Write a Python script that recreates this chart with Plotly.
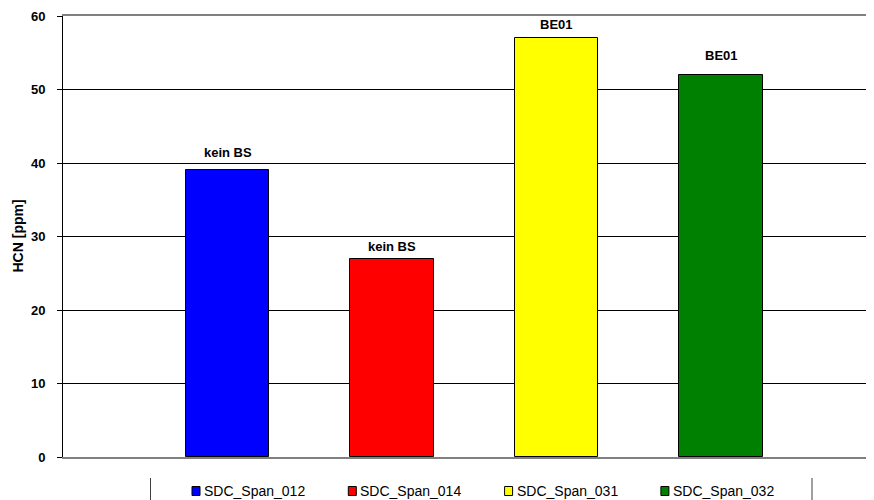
import plotly.graph_objects as go

categories = ["SDC_Span_012", "SDC_Span_014", "SDC_Span_031", "SDC_Span_032"]
values = [39, 27, 57, 52]
bar_labels = ["kein BS", "kein BS", "BE01", "BE01"]
colors = ["#0000FF", "#FF0000", "#FFFF00", "#008000"]
y_ticks = [0, 10, 20, 30, 40, 50, 60]

OFF = 8  # default page body margin
W, H = 874 - OFF, 500 - OFF
ML, MR, MT, MB = 63 - OFF, 0, 16 - OFF, 500 - 457
PW = W - ML - MR
PH = H - MT - MB


def px_x(p):
    return (p - OFF - ML) / PW


def px_y(p):
    return (MT + PH - (p - OFF)) / PH


xpos = list(range(1, len(categories) + 1))

fig = go.Figure()
fig.add_trace(go.Bar(
    x=xpos, y=values, width=0.51,
    marker=dict(color=colors, line=dict(color="black", width=1)),
    showlegend=False, hoverinfo="skip",
))

FONT = "Liberation Sans, Arial"
label_shift = [18, 12, 14, 19]
annotations = []
for xi, v, lab, sh in zip(xpos, values, bar_labels, label_shift):
    annotations.append(dict(
        x=xi, y=v, xref="x", yref="y", text=lab, showarrow=False,
        yanchor="middle", yshift=sh,
        font=dict(family=FONT, size=13, color="black", weight="bold"),
    ))

annotations.append(dict(
    x=px_x(17), y=0.5, xref="paper", yref="paper", text="HCN [ppm]",
    textangle=-90, showarrow=False, xanchor="center", yanchor="middle",
    font=dict(family=FONT, size=14, color="black", weight="bold"),
))

shapes = []
leg_start_px = 192
leg_step_px = 156.3
leg_y_px = 491
for i, (cat, col) in enumerate(zip(categories, colors)):
    sx = leg_start_px + i * leg_step_px
    shapes.append(dict(
        type="rect", xref="paper", yref="paper",
        x0=px_x(sx), x1=px_x(sx + 8),
        y0=px_y(leg_y_px + 4.5), y1=px_y(leg_y_px - 4.5),
        fillcolor=col, line=dict(color="black", width=1),
    ))
    annotations.append(dict(
        x=px_x(sx + 10), y=px_y(leg_y_px),
        xref="paper", yref="paper", text=cat, showarrow=False,
        xanchor="left", yanchor="middle",
        font=dict(family=FONT, size=14, color="black"),
    ))
for p in (150.5, 812):
    shapes.append(dict(
        type="line", xref="paper", yref="paper",
        x0=px_x(p), x1=px_x(p), y0=px_y(478), y1=px_y(500),
        line=dict(color="#404040", width=1),
    ))

fig.update_layout(
    width=W, height=H,
    margin=dict(l=ML, r=MR, t=MT, b=MB),
    paper_bgcolor="white", plot_bgcolor="white",
    annotations=annotations, shapes=shapes,
    bargap=0,
    xaxis=dict(
        range=[0, 4.93], showticklabels=False, ticks="", showgrid=False,
        zeroline=False, showline=True, linecolor="#808080", linewidth=2, mirror=True,
    ),
    yaxis=dict(
        range=[0, 60], tickvals=y_ticks, showgrid=True, gridcolor="black", gridwidth=1,
        zeroline=False, showline=True, linecolor="black", linewidth=1,
        ticks="outside", ticklen=5, tickcolor="black", ticklabelstandoff=9,
        ticklabeloverflow="allow",
        tickfont=dict(family=FONT, size=13, color="black", weight="bold"),
    ),
)

fig.write_html("out.html")
